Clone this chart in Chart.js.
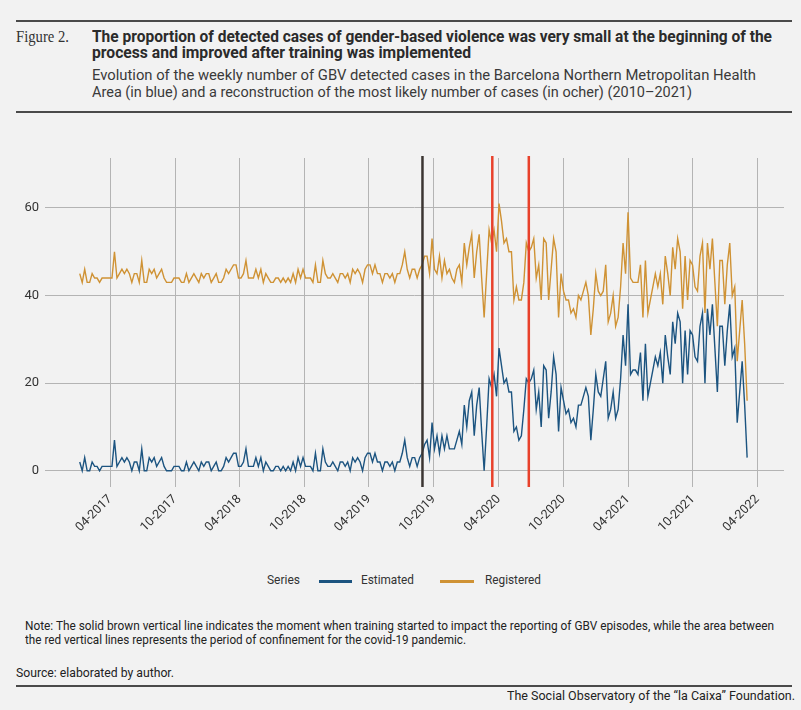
<!DOCTYPE html>
<html><head><meta charset="utf-8">
<script src="https://cdn.jsdelivr.net/npm/chart.js@4.4.0/dist/chart.umd.min.js"></script>
<style>
html,body{margin:0;padding:0;background:#f2f2f2;width:801px;height:710px;overflow:hidden;color:#333;font-family:Roboto,"Liberation Sans",sans-serif}
.t{position:absolute;white-space:nowrap;line-height:16px;transform-origin:0 50%}
.rule{position:absolute;left:16px;width:776px;height:2px;background:#4a4a4a}
.narrow{font-family:"Liberation Sans Narrow","Roboto",sans-serif}
#wrap{position:absolute;left:0;top:130px;width:801px;height:430px}
.lg{position:absolute;height:2.5px;top:580px}
</style></head><body>
<div class="rule" style="top:20px"></div>
<div class="t fit" data-w="53" style="left:16px;top:29px;font-family:'Liberation Serif',serif;font-size:16px">Figure 2.</div>
<div class="t fit narrow" data-w="680" style="left:92px;top:29px;font-size:16px;font-weight:bold;color:#2b2b2b">The proportion of detected cases of gender-based violence was very small at the beginning of the</div>
<div class="t fit narrow" data-w="379" style="left:92px;top:45px;font-size:16px;font-weight:bold;color:#2b2b2b">process and improved after training was implemented</div>
<div class="t fit narrow" data-w="664" style="left:92px;top:67px;font-size:15px;color:#3a3a3a">Evolution of the weekly number of GBV detected cases in the Barcelona Northern Metropolitan Health</div>
<div class="t fit narrow" data-w="600" style="left:92px;top:84px;font-size:15px;color:#3a3a3a">Area (in blue) and a reconstruction of the most likely number of cases (in ocher) (2010–2021)</div>
<div class="rule" style="top:111px"></div>

<div id="wrap"><canvas id="c"></canvas></div>

<div class="t fit narrow" data-w="33" style="left:267px;top:572px;font-size:13px">Series</div>
<div class="lg" style="left:319px;width:33px;background:#1c5480"></div>
<div class="t fit narrow" data-w="53" style="left:361px;top:572px;font-size:13px">Estimated</div>
<div class="lg" style="left:440px;width:34px;background:#cf9234"></div>
<div class="t fit narrow" data-w="56" style="left:485px;top:572px;font-size:13px">Registered</div>

<div class="t fit narrow" data-w="749" style="left:25px;top:618px;font-size:13px;color:#222">Note: The solid brown vertical line indicates the moment when training started to impact the reporting of GBV episodes, while the area between</div>
<div class="t fit narrow" data-w="441" style="left:25px;top:632px;font-size:13px;color:#222">the red vertical lines represents the period of confinement for the covid-19 pandemic.</div>
<div class="t fit narrow" data-w="158" style="left:16px;top:665px;font-size:13px;color:#222">Source: elaborated by author.</div>
<div class="rule" style="top:685px"></div>
<div class="t fit narrow" id="foot" data-w="288" style="left:507px;top:688px;font-size:13px;color:#222">The Social Observatory of the “la Caixa” Foundation.</div>

<script>
// ---- data ----
const startDate = '2017-01-05';        // first weekly observation
const estimated = [
 2,0,3,0,0,2,1,1,0,1, 1,1,1,1,7,1,2,3,2,3, 2,0,2,2,0,5,0,0,3,2, 3,1,2,3,1,0,0,0,1,1,
 1,0,0,2,0,1,2,1,0,2, 1,2,2,0,1,2,0,0,1,3, 2,3,4,4,1,1,2,5,1,1, 1,3,1,3,0,2,1,0,0,1,
 1,0,1,0,1,0,2,0,3,1, 3,1,1,1,0,4,0,0,5,2, 1,1,2,1,0,2,2,1,2,0, 3,2,3,2,0,3,4,4,2,4,
 2,2,0,2,2,1,2,0,2,2, 4,7,3,1,3,3,1,3,4,6, 7,3,11,5,8,4,8,5,8,5, 5,5,7,9,6,15,10,16,18,8,
 15,19,9,0,10,21,19,22,17,28, 24,20,21,18,18,9,10,7,8,14, 21,20,21,23,14,18,10,24,23,12,
 18,26,22,9,19,16,13,14,11,12, 10,15,15,17,19,17,7,14,22,18, 17,21,25,12,14,18,12,14,21,31,
 24,38,22,23,23,22,27,16,29,17, 20,23,26,24,27,20,31,26,22,34, 29,36,34,20,32,22,32,31,26,25,
 33,36,20,37,31,38,28,18,33,33, 24,32,38,26,28,11,18,25,15,3
];
const registered = [
 45,43,46,43,43,45,44,44,43,44, 44,44,44,44,50,44,45,46,45,46, 45,43,45,45,43,48,43,43,46,45, 46,44,45,46,44,43,43,43,44,44,
 44,43,43,45,43,44,45,44,43,45, 44,45,45,43,44,45,43,43,44,46, 45,46,47,47,44,44,45,48,44,44, 44,46,44,46,43,45,44,43,43,44,
 44,43,44,43,44,43,45,43,46,44, 46,44,44,44,43,47,43,43,48,45, 44,44,45,44,43,45,45,44,45,43, 46,45,46,45,43,46,47,47,45,47,
 45,45,43,45,45,44,45,43,45,45, 47,50,46,44,46,46,44,46,47,49, 49,45,53,46,45,49,44,48,45,46, 44,43,46,47,43,52,47,51,54,44,
 50,54,44,35,45,55,52,55,50,61, 57,52,53,50,50,39,42,39,39,43, 52,50,51,53,44,47,39,53,52,39,
 46,53,50,35,45,41,39,39,36,37, 35,40,39,41,43,40,31,37,45,41, 40,41,47,34,36,40,33,35,42,52,
 45,59,44,43,43,43,47,35,48,36, 39,42,45,42,45,38,49,45,40,51, 46,53,50,37,49,39,48,47,42,41,
 49,52,36,52,46,53,43,33,48,48, 38,47,52,40,42,25,32,39,29,16
];
const xTickLabels = ['04-2017','10-2017','04-2018','10-2018','04-2019','10-2019','04-2020','10-2020','04-2021','10-2021','04-2022'];
const yTicks = [0,20,40,60];
const trainingDate = '2019-08-30';
const confinementDates = ['2020-03-14','2020-06-25'];
const xRange = ['2016-09-29','2022-06-15'];
const yRange = [-3.7, 71.4];

// ---- helpers ----
const DAY = 86400000;
const toDay = s => Date.parse(s + 'T00:00:00Z') / DAY;
const x0 = toDay(startDate);
const toPoints = arr => arr.map((v, i) => ({x: x0 + 7 * i, y: v}));
const labelToDay = l => { const [m, y] = l.split('-'); return toDay(y + '-' + m + '-01'); };

const eventLines = {
  id: 'eventLines',
  afterDatasetsDraw(chart) {
    const {ctx, chartArea, scales} = chart;
    const draw = (d, color) => {
      const px = scales.x.getPixelForValue(toDay(d));
      ctx.save();
      ctx.strokeStyle = color; ctx.lineWidth = 2.5;
      ctx.beginPath(); ctx.moveTo(px, chartArea.top - 2); ctx.lineTo(px, chartArea.bottom); ctx.stroke();
      ctx.restore();
    };
    draw(trainingDate, '#3b3532');
    confinementDates.forEach(d => draw(d, '#e8412b'));
  }
};

Chart.defaults.font.family = 'Roboto, "Liberation Sans", sans-serif';
Chart.defaults.color = '#333';

new Chart(document.getElementById('c'), {
  type: 'line',
  data: {
    datasets: [
      {label: 'Registered', data: toPoints(registered), borderColor: '#cf9234', borderWidth: 1.4, pointRadius: 0, tension: 0},
      {label: 'Estimated', data: toPoints(estimated), borderColor: '#1c5480', borderWidth: 1.4, pointRadius: 0, tension: 0}
    ]
  },
  options: {
    animation: false,
    responsive: true,
    maintainAspectRatio: false,
    layout: {padding: {top: 28, right: 17, left: 0, bottom: 0}},
    plugins: {legend: {display: false}, tooltip: {enabled: false}},
    scales: {
      x: {
        type: 'linear',
        min: toDay(xRange[0]), max: toDay(xRange[1]),
        afterBuildTicks: axis => { axis.ticks = xTickLabels.map(l => ({value: labelToDay(l)})); },
        afterFit: axis => { axis.height = 73; },
        grid: {color: '#b4b4b4', lineWidth: 1, drawTicks: false},
        border: {display: false},
        ticks: {autoSkip: false, minRotation: 45, maxRotation: 45, padding: 5,
                font: {size: 12.5}, color: '#333',
                callback: (v, i) => xTickLabels[i]}
      },
      y: {
        min: yRange[0], max: yRange[1],
        afterBuildTicks: axis => { axis.ticks = yTicks.map(v => ({value: v})); },
        afterFit: axis => { axis.width = 45; },
        grid: {color: '#b4b4b4', lineWidth: 1, drawTicks: false},
        border: {display: false},
        ticks: {padding: 6, font: {size: 13}, color: '#333'}
      }
    }
  },
  plugins: [eventLines]
});

// fit text lines to the reference widths
document.querySelectorAll('.fit').forEach(el => {
  const w = el.getBoundingClientRect().width;
  const target = +el.dataset.w;
  if (w > 0) el.style.transform = 'scaleX(' + (target / w) + ')';
});
</script>
</body></html>
